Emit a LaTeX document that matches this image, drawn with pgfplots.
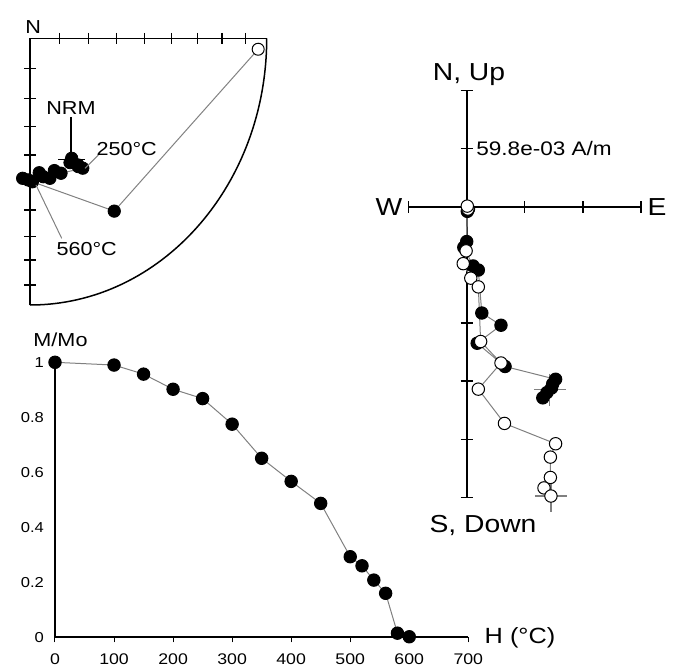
\documentclass[border=0pt]{standalone}
\usepackage{pgfplots}
\pgfplotsset{compat=1.18}
\usepackage{fontspec}
\setmainfont{Liberation Sans}[FakeStretch=1.15]

\definecolor{linegray}{RGB}{128,128,128}
\newcommand{\bigfont}{\fontsize{12.3}{14}\selectfont}
\newcommand{\medfont}{\fontsize{9.4}{11}\selectfont}

\begin{document}
\begin{tikzpicture}
\useasboundingbox (0,0) rectangle (337pt,-334pt);

% ---------- equal-area quadrant ----------
\begin{axis}[
  at={(15pt,-19.15pt)}, anchor=north west,
  scale only axis, width=118.35pt, height=133.35pt,
  xmin=0, xmax=1, ymin=-1, ymax=0,
  axis x line*=top, axis y line*=left,
  axis line style={line width=0.75pt},
  xtick={0.1233,0.2456,0.3660,0.4837,0.5977,0.7071,0.8112,0.9096},
  ytick={-0.1125,-0.225,-0.331,-0.4375,-0.537,-0.644,-0.744,-0.831,-0.925},
  xticklabels={}, yticklabels={},
  tick align=center, major tick length=5.5pt,
  tick style={black, line width=0.6pt},
  clip=false,
]
\draw[line width=0.75pt] (axis cs:1,0) arc[start angle=0, end angle=-90, x radius=118.35pt, y radius=133.35pt];
% demagnetisation path (NRM ... 600 C)
\addplot[linegray, line width=0.5pt] coordinates {
  (0.176,-0.450) (0.169,-0.466) (0.204,-0.481) (0.203,-0.475) (0.223,-0.487)
  (0.131,-0.506) (0.103,-0.496) (0.084,-0.525) (0.056,-0.519) (0.039,-0.504)
  (-0.031,-0.525) (-0.008,-0.531) (0.010,-0.538) (0.356,-0.648) (0.964,-0.041)};
\addplot[only marks, mark=*, mark size=3.1pt, mark options={fill=black, draw=black}] coordinates {
  (0.176,-0.450) (0.169,-0.466) (0.204,-0.481) (0.203,-0.475) (0.223,-0.487)
  (0.131,-0.506) (0.103,-0.496) (0.084,-0.525) (0.056,-0.519) (0.039,-0.504)
  (-0.031,-0.525) (-0.008,-0.531) (0.010,-0.538) (0.356,-0.648)};
\addplot[only marks, mark=*, mark size=3pt, mark options={fill=white, draw=black, line width=0.5pt}] coordinates {(0.964,-0.041)};
\addplot[only marks, mark=-, mark size=6.7pt, mark options={black, line width=0.6pt}] coordinates {(0.176,-0.454)};
\end{axis}

% ---------- orthogonal vector plot ----------
\begin{axis}[
  at={(204.3pt,-248.6pt)}, anchor=south west,
  scale only axis, width=116.2pt, height=203.35pt,
  xmin=-1, xmax=3, ymin=-5, ymax=2,
  hide axis, clip=false,
]
\draw[line width=1pt] (axis cs:-1,0) -- (axis cs:3,0);
\draw[line width=1pt] (axis cs:0,-5) -- (axis cs:0,2);
\draw[line width=0.6pt] (axis cs:-1,0) ++(0pt,-3pt) -- ++(0pt,6pt);
\draw[line width=0.6pt] (axis cs:1,0) ++(0pt,-3pt) -- ++(0pt,6pt);
\draw[line width=0.6pt] (axis cs:2,0) ++(0pt,-3pt) -- ++(0pt,6pt);
\draw[line width=0.6pt] (axis cs:3,0) ++(0pt,-3pt) -- ++(0pt,6pt);
\draw[line width=0.6pt] (axis cs:0,2) ++(-3pt,0pt) -- ++(6pt,0pt);
\draw[line width=0.6pt] (axis cs:0,1) ++(-3pt,0pt) -- ++(6pt,0pt);
\draw[line width=0.6pt] (axis cs:0,-1) ++(-3pt,0pt) -- ++(6pt,0pt);
\draw[line width=0.6pt] (axis cs:0,-2) ++(-3pt,0pt) -- ++(6pt,0pt);
\draw[line width=0.6pt] (axis cs:0,-3) ++(-3pt,0pt) -- ++(6pt,0pt);
\draw[line width=0.6pt] (axis cs:0,-4) ++(-3pt,0pt) -- ++(6pt,0pt);
\draw[line width=0.6pt] (axis cs:0,-5) ++(-3pt,0pt) -- ++(6pt,0pt);
% end points of the two projections
\addplot[only marks, mark=+, mark size=8pt, mark options={linegray, line width=0.6pt}] coordinates {(1.43,-3.15) (1.45,-4.98)};
% horizontal projection (E, N)
\addplot[linegray, line width=0.5pt, mark=*, mark size=3.1pt, mark options={fill=black, draw=black}] coordinates {
  (0.03,-0.04) (0.01,-0.08) (0.00,-0.60) (-0.05,-0.70) (0.11,-1.02)
  (0.20,-1.09) (0.26,-1.83) (0.59,-2.04) (0.18,-2.35) (0.66,-2.75)
  (1.53,-2.97) (1.48,-3.05) (1.46,-3.12) (1.38,-3.20) (1.31,-3.29)};
% vertical projection (E, Up)
\addplot[linegray, line width=0.5pt, mark=*, mark size=3.1pt, mark options={fill=white, draw=black, line width=0.5pt}] coordinates {
  (0.02,-0.04) (0.01,0.01) (-0.01,-0.76) (-0.06,-0.98) (0.07,-1.23)
  (0.20,-1.38) (0.24,-2.32) (0.59,-2.69) (0.20,-3.14) (0.65,-3.73)
  (1.53,-4.08) (1.44,-4.31) (1.44,-4.66) (1.33,-4.84) (1.45,-4.98)};
\end{axis}

% ---------- normalised intensity decay ----------
\begin{axis}[
  at={(27.5pt,-318.65pt)}, anchor=south west,
  scale only axis, width=206.65pt, height=137.5pt,
  xmin=0, xmax=700, ymin=0, ymax=1,
  axis x line*=bottom, axis y line*=left,
  axis line style={line width=1pt},
  xtick={0,100,200,300,400,500,600,700},
  ytick={0,0.2,0.4,0.6,0.8,1},
  yticklabels={0,0.2,0.4,0.6,0.8,1},
  tick align=outside, major tick length=2.5pt,
  xtick style={black, line width=0.5pt},
  ytick style={draw=none},
  /pgf/number format/assume math mode=true,
  xticklabel style={font=\fontsize{7.7}{9}\selectfont, yshift=-2pt},
  yticklabel style={font=\fontsize{7.2}{8}\selectfont, xshift=0.5pt},
  clip=false,
]
\addplot[linegray, line width=0.5pt, mark=*, mark size=3.1pt, mark options={fill=black, draw=black}] coordinates {
  (0,1.000) (100,0.990) (150,0.957) (200,0.902) (250,0.868)
  (300,0.775) (350,0.651) (400,0.567) (450,0.487) (500,0.293)
  (520,0.260) (540,0.208) (560,0.160) (580,0.015) (600,0.002)};
\end{axis}

% ---------- labels ----------
\begin{scope}[x=0.5pt, y=-0.5pt]
\draw[black, line width=0.6pt] (71,117) -- (71,153);
\draw[linegray, line width=0.5pt] (98.3,155) -- (85,168.3);
\draw[linegray, line width=0.5pt] (36,185) -- (61.7,238.3);
\node[anchor=base, inner sep=0pt, font=\medfont] at (33.3,33.3) {N};
\node[anchor=base, inner sep=0pt, font=\medfont] at (71,115) {NRM};
\node[anchor=base, inner sep=0pt, font=\medfont] at (126.7,156) {250°C};
\node[anchor=base, inner sep=0pt, font=\medfont] at (86.7,256) {560°C};
\node[anchor=base, inner sep=0pt, font=\bigfont] at (469,80.7) {N, Up};
\node[anchor=base west, inner sep=0pt, font=\fontsize{9.8}{11}\selectfont] at (476,156) {59.8e-03 A/m};
\node[anchor=base, inner sep=0pt, font=\bigfont] at (389,215.7) {W};
\node[anchor=base, inner sep=0pt, font=\bigfont] at (657,215.7) {E};
\node[anchor=base, inner sep=0pt, font=\bigfont] at (483,532.3) {S, Down};
\node[anchor=base, inner sep=0pt, font=\medfont] at (60.5,346.7) {M/Mo};
\node[anchor=base, inner sep=0pt, font=\fontsize{11}{12}\selectfont] at (520,643.3) {H (°C)};
\end{scope}
\end{tikzpicture}
\end{document}
